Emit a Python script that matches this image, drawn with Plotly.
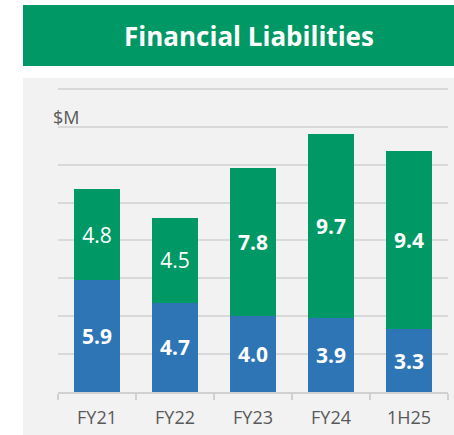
import plotly.graph_objects as go

categories = ["FY21", "FY22", "FY23", "FY24", "1H25"]
blue_values = [5.9, 4.7, 4.0, 3.9, 3.3]
green_values = [4.8, 4.5, 7.8, 9.7, 9.4]
y_ticks = [0, 2, 4, 6, 8, 10, 12, 14, 16]

GREEN = "#009865"
BLUE = "#2E75B6"
FONT = "Open Sans"

green_bold = [False, False, True, True, True]

blue_text = [f"<b>{v:.1f}</b>" for v in blue_values]
green_text = [f"<b>{v:.1f}</b>" if b else f"{v:.1f}" for v, b in zip(green_values, green_bold)]

fig = go.Figure()
fig.add_trace(go.Bar(
    x=categories, y=blue_values, marker=dict(color=BLUE, line=dict(width=0)),
    text=blue_text, textposition="inside", insidetextanchor="middle",
    textfont=dict(family=FONT, size=21, color="white"), hoverinfo="skip",
))
fig.add_trace(go.Bar(
    x=categories, y=green_values, marker=dict(color=GREEN, line=dict(width=0)),
    text=green_text, textposition="inside", insidetextanchor="middle",
    textfont=dict(family=FONT, size=21, color="white"), hoverinfo="skip",
))

W, H = 454, 435
ml, mr, mt, mb = 58, 6, 86, 43
pw = W - ml - mr
ph = H - mt - mb

def px_to_paper_x(px):
    return (px - ml) / pw

def px_to_paper_y(py):
    return (H - mb - py) / ph

fig.update_layout(
    width=W, height=H,
    margin=dict(l=ml, r=mr, t=mt, b=mb, pad=0),
    barmode="stack", bargap=0.42,
    showlegend=False,
    paper_bgcolor="white", plot_bgcolor="rgba(0,0,0,0)",
    font=dict(family=FONT, color="#595959"),
    xaxis=dict(
        showgrid=False, showline=True, linecolor="#D0D0D0", linewidth=1.5,
        ticks="outside", ticklen=6, tickcolor="#D0D0D0", tickwidth=1.5,
        tickson="boundaries", ticklabelstandoff=9,
        tickfont=dict(family=FONT, size=18, color="#595959"),
        fixedrange=True,
    ),
    yaxis=dict(
        range=[0, 16.15], tickvals=y_ticks, showticklabels=False,
        showgrid=True, gridcolor="#D9D9D9", gridwidth=1.5,
        zeroline=False, showline=False, fixedrange=True,
    ),
    shapes=[
        dict(type="rect", xref="paper", yref="paper", layer="below",
             x0=px_to_paper_x(23), x1=px_to_paper_x(454),
             y0=px_to_paper_y(435), y1=px_to_paper_y(78),
             fillcolor="#F2F2F2", line=dict(width=0)),
        dict(type="rect", xref="paper", yref="paper", layer="below",
             x0=px_to_paper_x(23), x1=px_to_paper_x(454),
             y0=px_to_paper_y(66), y1=px_to_paper_y(5),
             fillcolor=GREEN, line=dict(width=0)),
    ],
    annotations=[
        dict(text="<b>Financial Liabilities</b>", xref="paper", yref="paper",
             x=px_to_paper_x(249), y=px_to_paper_y(36), xanchor="center", yanchor="middle",
             showarrow=False, font=dict(family=FONT, size=26, color="white")),
        dict(text="$M", xref="paper", yref="paper",
             x=px_to_paper_x(51), y=px_to_paper_y(131), xanchor="left", yanchor="bottom",
             showarrow=False, font=dict(family=FONT, size=18, color="#595959")),
    ],
)

fig.write_html(
    "out.html",
    config={"displayModeBar": False},
    post_script="document.body.style.margin='0';document.body.style.overflow='hidden';",
)
